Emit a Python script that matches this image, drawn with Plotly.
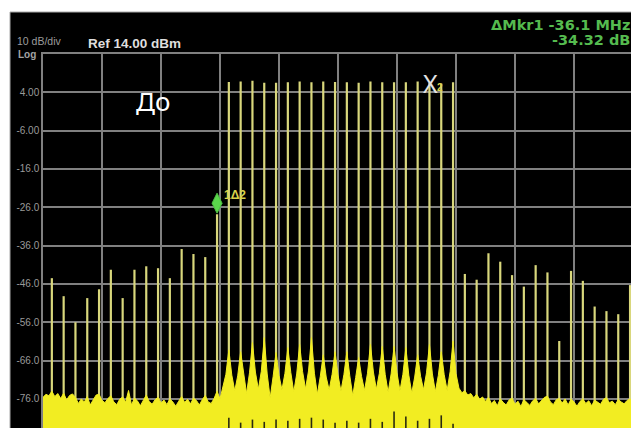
import numpy as np
import plotly.graph_objects as go

# ---------------- data ----------------
tone_start_mhz = 1.5
tone_step_mhz = 2.0
tone_peak_dbm = [
    -44.5, -49.2, -56.0, -49.7, -47.4, -42.3, -49.7, -42.3, -41.4, -41.9,
    -44.5, -36.9, -38.2, -39.0, -27.8,
    6.7, 6.8, 7.0, 6.5, 6.5, 6.6, 6.8, 6.6, 6.8, 6.7,
    6.6, 6.5, 6.8, 6.6, 6.6, 6.6, 6.8, 6.5, 6.3, 6.6,
    -43.4, -44.9, -38.0, -40.2, -43.7, -46.7, -41.1, -43.0, -60.9, -42.6,
    -45.2, -51.9, -53.1, -53.9, -46.3,
]
inband_first, inband_last = 15, 34
marker1_idx, marker2_idx = 14, 32

# dark notches at the bottom of the in-band tones
inband_notch_dbm = [-80.9, -82.2, -81.4, -82.0, -81.4, -81.7, -81.2, -80.9, -81.4, -82.2,
                    -81.7, -82.2, -81.2, -82.0, -79.3, -80.6, -81.7, -81.2, -80.3, -82.5]

# noise floor trace, 0.5 MHz steps from 0 MHz
floor_start_mhz = 0.0
floor_step_mhz = 0.5
floor_dbm = [
    -75.6, -74.8, -75.2, -74.0, -75.4, -74.6, -75.9, -74.5, -76.3, -75.1,
    -74.7, -75.6, -77.2, -76.0, -76.8, -75.4, -77.6, -76.2, -75.0, -74.8,
    -76.4, -77.0, -75.9, -75.2, -76.8, -77.5, -76.1, -75.5, -76.9, -73.8,
    -77.6, -75.8, -76.5, -77.8, -76.4, -75.0, -76.7, -77.4, -76.2, -75.6,
    -77.0, -76.3, -77.5, -76.0, -76.8, -77.9, -76.6, -75.4, -76.9, -76.1,
    -77.3, -75.8, -76.4, -77.6, -76.2, -75.1, -76.8, -77.2, -75.9, -74.0,
    -76.0, -72.6, -69.6, -63.2, -69.8, -73.9, -70.0, -63.7, -69.4, -74.6,
    -69.2, -61.3, -69.0, -73.5, -68.8, -60.0, -69.5, -75.8, -70.2, -63.9,
    -69.9, -73.6, -69.4, -62.6, -69.1, -74.2, -69.5, -61.8, -68.9, -73.4,
    -68.7, -60.0, -69.3, -74.8, -70.1, -64.5, -70.3, -73.7, -69.6, -63.7,
    -69.8, -74.0, -69.7, -63.7, -70.0, -75.2, -70.4, -65.2, -70.2, -73.8,
    -69.3, -61.8, -69.0, -73.5, -69.4, -62.3, -69.6, -74.3, -69.5, -62.3,
    -69.2, -73.9, -69.6, -62.6, -69.8, -74.5, -70.3, -64.5, -70.1, -73.6,
    -69.2, -61.8, -69.5, -74.1, -69.9, -63.7, -69.7, -73.8, -68.9, -60.9,
    -69.4, -73.2, -74.4, -73.9, -75.0, -74.6, -75.7, -74.8, -76.1, -75.5,
    -76.7, -75.6, -77.2, -76.4, -77.8, -76.0, -76.9, -77.6, -76.3, -75.8,
    -77.4, -76.6, -78.0, -76.2, -76.9, -77.7, -76.5, -75.9, -77.3, -76.4,
    -75.6, -75.3, -76.8, -77.5, -76.2, -75.9, -77.1, -76.0, -77.6, -76.1,
    -76.8, -77.9, -76.7, -76.0, -77.2, -76.5, -77.8, -76.3, -76.9, -77.4,
    -76.1, -75.7, -77.0, -76.6, -77.5, -76.2, -76.8, -77.3, -76.4, -76.0,
    -76.7,
]

ytick_vals = [4, -6, -16, -26, -36, -46, -56, -66, -76]
ytick_text = ["4.00", "-6.00", "-16.0", "-26.0", "-36.0", "-46.0", "-56.0", "-66.0", "-76.0"]

ref_level = 14.0
db_per_div = 10.0
mhz_per_div = 10.0

# ---------------- figure geometry / styling ----------------
W, H = 631, 428
L, T = 43, 54
PW, PH = W - L, H - T
px_per_div_x = 59.0
px_per_db = 3.832

def pxx(p):
    return (p - L) / PW

def pyy(p):
    return (H - p) / PH

tone_f = [tone_start_mhz + tone_step_mhz * k for k in range(len(tone_peak_dbm))]
floor_f = [floor_start_mhz + floor_step_mhz * i for i in range(len(floor_dbm))]
bottom = -100.0

x_max = PW / px_per_div_x * mhz_per_div
y_min = ref_level - PH / px_per_db

TONE_COL = "#d9d77c"
NOISE_COL = "#f2ed22"
GRID_COL = "#808080"
GREEN = "#55bb4f"

fig = go.Figure()

# tones
tx, ty = [], []
for f, p in zip(tone_f, tone_peak_dbm):
    tx += [f, f, None]
    ty += [bottom, p, None]
fig.add_trace(go.Scatter(x=tx, y=ty, mode="lines", line=dict(color=TONE_COL, width=2.2),
                         hoverinfo="skip", showlegend=False))

# noise floor (filled down to bottom)
fig.add_trace(go.Scatter(x=floor_f, y=[bottom] * len(floor_f), mode="lines",
                         line=dict(width=0, color=NOISE_COL), hoverinfo="skip", showlegend=False))
fig.add_trace(go.Scatter(x=floor_f, y=floor_dbm, mode="lines", fill="tonexty",
                         fillcolor=NOISE_COL, line=dict(color=NOISE_COL, width=1),
                         hoverinfo="skip", showlegend=False))

# dark notches
nx, ny = [], []
for f, v in zip(tone_f[inband_first:inband_last + 1], inband_notch_dbm):
    nx += [f, f, None]
    ny += [bottom, v, None]
fig.add_trace(go.Scatter(x=nx, y=ny, mode="lines", line=dict(color="#2a2a10", width=1.6),
                         hoverinfo="skip", showlegend=False))

shapes = [
    # black instrument panel
    dict(type="rect", xref="paper", yref="paper", x0=pxx(10), x1=pxx(640), y0=pyy(440), y1=pyy(12),
         fillcolor="#000000", line=dict(color="#a9a9a9", width=1), layer="below"),
    # marker 1 diamond (pixel sized, anchored to the tone peak)
    dict(type="path", xref="x", yref="y", xsizemode="pixel", ysizemode="pixel",
         xanchor=tone_f[marker1_idx], yanchor=tone_peak_dbm[marker1_idx],
         path="M 0 1 L 5 11 L 0 21 L -5 11 Z", fillcolor="#5bd64c", line=dict(color="#4cc040", width=1)),
]

ann = [
    dict(x=pxx(15), y=pyy(41.5), xref="paper", yref="paper", text="10 dB/div", showarrow=False,
         xanchor="left", yanchor="middle", font=dict(family="Liberation Sans", size=10.5, color="#9c9c9c")),
    dict(x=pxx(16), y=pyy(54), xref="paper", yref="paper", text="<b>Log</b>", showarrow=False,
         xanchor="left", yanchor="middle", font=dict(family="Liberation Sans", size=10, color="#a4a4a4")),
    dict(x=pxx(86), y=pyy(43), xref="paper", yref="paper", text="<b>Ref 14.00 dBm</b>", showarrow=False,
         xanchor="left", yanchor="middle", font=dict(family="Liberation Sans", size=13.5, color="#dedede")),
    dict(x=pxx(632), y=pyy(25), xref="paper", yref="paper", text="<b>ΔMkr1 -36.1 MHz</b>", showarrow=False,
         xanchor="right", yanchor="middle", font=dict(family="DejaVu Sans", size=14.5, color=GREEN)),
    dict(x=pxx(632), y=pyy(40), xref="paper", yref="paper", text="<b>-34.32 dB</b>", showarrow=False,
         xanchor="right", yanchor="middle", font=dict(family="DejaVu Sans", size=14.5, color=GREEN)),
    dict(x=pxx(152.5), y=pyy(101), xref="paper", yref="paper", text="До", showarrow=False,
         xanchor="center", yanchor="middle", font=dict(family="Noto Sans", size=26, color="#ffffff")),
    # marker 1 label
    dict(x=tone_f[marker1_idx], y=tone_peak_dbm[marker1_idx], xref="x", yref="y", text="<b>1Δ2</b>",
         showarrow=False, xanchor="left", yanchor="middle", xshift=5, yshift=19,
         font=dict(family="Liberation Sans", size=12, color="#d8d24a")),
    # marker 2
    dict(x=tone_f[marker2_idx], y=tone_peak_dbm[marker2_idx], xref="x", yref="y", text="X",
         showarrow=False, xanchor="center", yanchor="middle", xshift=1, yshift=0,
         font=dict(family="Noto Sans", size=25, color="#e2e2e2")),
    dict(x=tone_f[marker2_idx], y=tone_peak_dbm[marker2_idx], xref="x", yref="y", text="<b>2</b>",
         showarrow=False, xanchor="center", yanchor="middle", xshift=11, yshift=-5,
         font=dict(family="Liberation Sans", size=10, color="#dcd34a")),
]

fig.update_layout(
    width=W, height=H,
    margin=dict(l=L, r=0, t=T, b=0, pad=0),
    paper_bgcolor="#ffffff",
    plot_bgcolor="rgba(0,0,0,0)",
    shapes=shapes,
    annotations=ann,
    showlegend=False,
)
fig.update_xaxes(range=[0, x_max], dtick=mhz_per_div, tick0=0, showgrid=True, gridcolor=GRID_COL,
                 gridwidth=1.5, showticklabels=False, ticks="", zeroline=False,
                 showline=True, linecolor=GRID_COL, linewidth=1.5, side="top", automargin=False)
fig.update_yaxes(range=[y_min, ref_level], tickvals=ytick_vals, ticktext=ytick_text,
                 showgrid=True, gridcolor=GRID_COL, gridwidth=1.5, zeroline=False,
                 showline=True, linecolor=GRID_COL, linewidth=1.5, ticks="", automargin=False,
                 tickfont=dict(family="Liberation Sans", size=10, color="#9a9a9a"))

fig.write_html("out.html", config={"displayModeBar": False},
               post_script="document.body.style.margin='0';document.body.style.padding='0';"
                           "document.body.style.overflow='hidden';")
